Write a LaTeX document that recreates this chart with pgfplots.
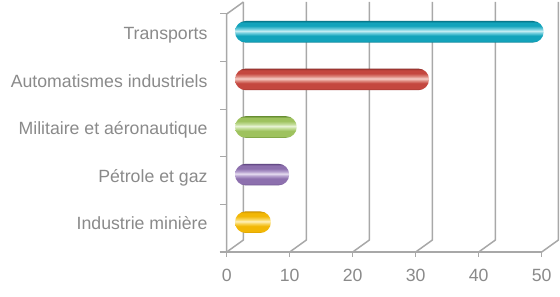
\documentclass[border=0pt]{standalone}
\usepackage{pgfplots}
\pgfplotsset{compat=1.18}
\usepackage{fontspec}
\setmainfont{Liberation Sans}
\definecolor{txt}{HTML}{8A8A8A}
\definecolor{ln}{HTML}{A8A8A8}
\definecolor{teal1}{HTML}{08788C}\definecolor{teal2}{HTML}{13A3BB}\definecolor{teal3}{HTML}{6ACBDB}\definecolor{teal4}{HTML}{C5EDF3}
\definecolor{red1}{HTML}{93302B}\definecolor{red2}{HTML}{C4473F}\definecolor{red3}{HTML}{DE8A80}\definecolor{red4}{HTML}{F6CFC8}
\definecolor{grn1}{HTML}{6C9236}\definecolor{grn2}{HTML}{9EC25E}\definecolor{grn3}{HTML}{C2DC96}\definecolor{grn4}{HTML}{E8F3D6}
\definecolor{pur1}{HTML}{5E4581}\definecolor{pur2}{HTML}{8D70AE}\definecolor{pur3}{HTML}{B5A0CE}\definecolor{pur4}{HTML}{E6DDF0}
\definecolor{yel1}{HTML}{CF9500}\definecolor{yel2}{HTML}{F2B705}\definecolor{yel3}{HTML}{F9D55A}\definecolor{yel4}{HTML}{FFF1BC}
\newcommand\mkshade[2]{%
\pgfdeclareverticalshading{#1}{100bp}{color(0bp)=(#21); color(25bp)=(#21); color(29bp)=(#22); color(41bp)=(#22); color(47bp)=(#23); color(52bp)=(#24); color(57bp)=(#23); color(64bp)=(#22); color(71bp)=(#22); color(75bp)=(#21); color(100bp)=(#21)}}
\mkshade{tealsh}{teal}
\mkshade{redsh}{red}
\mkshade{grnsh}{grn}
\mkshade{pursh}{pur}
\mkshade{yelsh}{yel}
\begin{document}
\begin{tikzpicture}
\path[use as bounding box] (0,0) rectangle (560bp,297bp);
\begin{axis}[
  at={(226.7bp,45bp)}, anchor=south west,
  scale only axis, width=315bp, height=238bp,
  xmin=0, xmax=50, ymin=-0.5, ymax=4.5,
  clip=false,
  axis line style={draw=none},
  major tick length=0pt,
  xtick={0,10,...,50}, ytick={0,...,4},
  yticklabels={Industrie minière,Pétrole et gaz,Militaire et aéronautique,Automatismes industriels,Transports},
  ticklabel style={font=\fontsize{17.7bp}{20bp}\selectfont, text=txt},
  /pgf/number format/assume math mode=true,
  xticklabel style={anchor=north, inner sep=0pt, yshift=-17bp},
  yticklabel style={anchor=base east, inner sep=0pt, xshift=-19bp, yshift=-1.7bp},
]
\pgfplotsinvokeforeach{0,10,20,30,40,50}{
  \draw[ln, line width=1.5bp] (axis cs:#1,-0.5) -- ([shift={(16.7bp,12bp)}]axis cs:#1,-0.5) -- ([shift={(16.7bp,12bp)}]axis cs:#1,4.5);
  \draw[ln, line width=1.5bp] (axis cs:#1,-0.5) -- ([yshift=-4.5bp]axis cs:#1,-0.5);
}
\draw[ln, line width=1.5bp] ([xshift=-7bp]axis cs:0,-0.5) -- (axis cs:50,-0.5);
\draw[ln, line width=1.5bp] (axis cs:0,-0.5) -- (axis cs:0,4.5) -- ([shift={(16.7bp,12bp)}]axis cs:0,4.5);
\pgfplotsinvokeforeach{0.5,1.5,2.5,3.5,4.5}{\draw[ln, line width=1bp] (axis cs:0,#1) -- ([xshift=-7bp]axis cs:0,#1);}
\end{axis}
\begin{axis}[
  at={(235bp,51bp)}, anchor=south west,
  scale only axis, width=315bp, height=238bp,
  xmin=0, xmax=50, ymin=-0.5, ymax=4.5,
  hide axis, clip=false,
]
\addplot[xbar, bar width=21.6bp, bar shift=0pt, draw=none, rounded corners=10.7bp, shade, shading=tealsh] coordinates {(49,4)};
\addplot[xbar, bar width=21.6bp, bar shift=0pt, draw=none, rounded corners=10.7bp, shade, shading=redsh] coordinates {(30.8,3)};
\addplot[xbar, bar width=21.6bp, bar shift=0pt, draw=none, rounded corners=10.7bp, shade, shading=grnsh] coordinates {(9.8,2)};
\addplot[xbar, bar width=21.6bp, bar shift=0pt, draw=none, rounded corners=10.7bp, shade, shading=pursh] coordinates {(8.6,1)};
\addplot[xbar, bar width=21.6bp, bar shift=0pt, draw=none, rounded corners=10.7bp, shade, shading=yelsh] coordinates {(5.7,0)};
\end{axis}
\end{tikzpicture}
\end{document}
